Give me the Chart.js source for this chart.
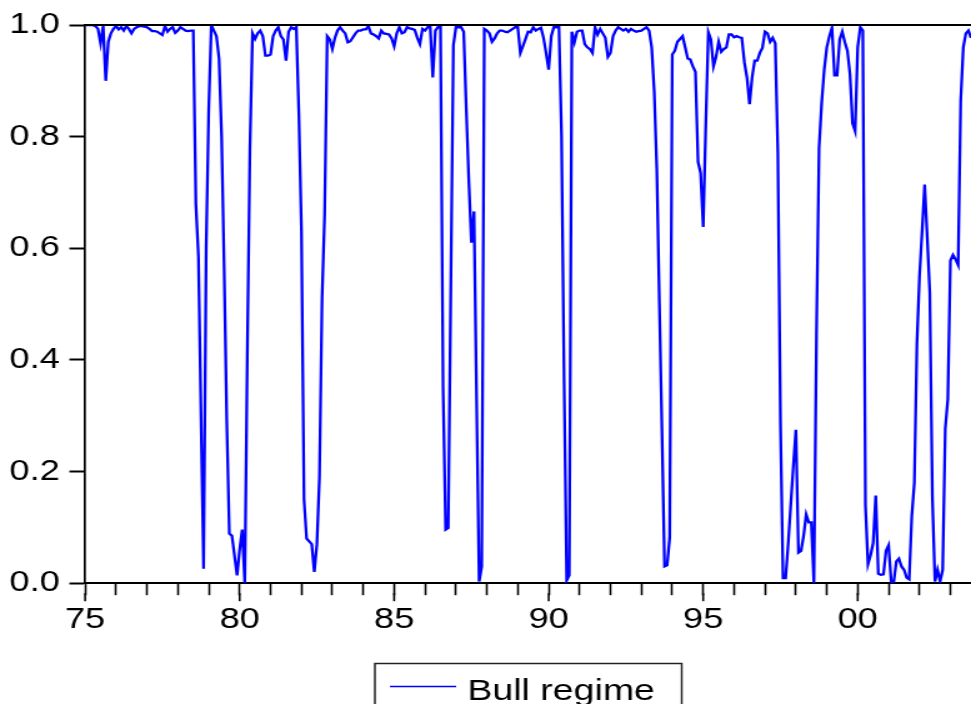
<!DOCTYPE html>
<html lang="en">
<head>
    <meta charset="UTF-8">
    <title>Bull regime probability</title>
    <style>
        body {
            margin: 0;
            background-color: #ffffff;
        }
    </style>
</head>
<body>
    <!-- the reference picture is stretched sideways by about 1.25, so the
         canvas is drawn at 777px and shown at 971px (inline style so Chart.js keeps it) -->
    <canvas id="regimeChart" width="777" height="704" style="width:971px;height:704px;display:block;"></canvas>

    <script src="https://cdn.jsdelivr.net/npm/chart.js"></script>
    <script>
        // Smoothed probability of the bull regime, monthly from 1975M1 to 2003M9
        const bull1975to1979 = [
            1.0, 1.0, 1.0, 1.0, 0.998, 0.993, 0.967, 0.998, 0.90, 0.97, 0.985, 0.993,
            0.998, 0.992, 0.996, 0.99, 0.998, 0.993, 0.985, 0.993, 0.996, 0.998, 0.998, 0.997,
            0.996, 0.993, 0.989, 0.989, 0.988, 0.985, 0.982, 0.998, 0.988, 0.993, 0.996, 0.986,
            0.99, 0.996, 0.993, 0.99, 0.989, 0.99, 0.99, 0.68, 0.585, 0.30, 0.026, 0.60,
            0.85, 1.0, 0.99, 0.98, 0.94, 0.80, 0.56, 0.29, 0.089, 0.085, 0.05, 0.014
        ];
        const bull1980to1984 = [
            0.06, 0.096, 0.0, 0.42, 0.78, 0.985, 0.975, 0.985, 0.99, 0.98, 0.945, 0.945,
            0.947, 0.98, 0.99, 0.996, 0.98, 0.974, 0.936, 0.988, 0.996, 0.993, 0.996, 0.84,
            0.63, 0.15, 0.08, 0.075, 0.07, 0.02, 0.07, 0.19, 0.51, 0.66, 0.98, 0.974,
            0.957, 0.977, 0.99, 0.996, 0.99, 0.985, 0.969, 0.971, 0.978, 0.985, 0.99, 0.99,
            0.992, 0.992, 0.998, 0.985, 0.983, 0.98, 0.976, 0.99, 0.985, 0.984, 0.983, 0.976
        ];
        const bull1985to1989 = [
            0.962, 0.985, 0.996, 0.985, 0.987, 0.996, 0.994, 0.993, 0.991, 0.977, 0.966, 0.993,
            0.99, 0.996, 0.997, 0.906, 0.99, 0.996, 0.996, 0.35, 0.096, 0.099, 0.53, 0.964,
            0.996, 0.996, 0.996, 0.988, 0.85, 0.72, 0.61, 0.666, 0.33, 0.003, 0.03, 0.993,
            0.99, 0.985, 0.97, 0.976, 0.985, 0.99, 0.99, 0.988, 0.987, 0.99, 0.993, 0.996,
            0.996, 0.95, 0.962, 0.975, 0.988, 0.987, 0.996, 0.99, 0.993, 0.995, 0.977, 0.95
        ];
        const bull1990to1994 = [
            0.92, 0.98, 0.996, 0.996, 0.996, 0.80, 0.36, 0.005, 0.014, 0.988, 0.969, 0.988,
            0.99, 0.99, 0.966, 0.96, 0.957, 0.95, 0.996, 0.983, 0.993, 0.985, 0.977, 0.943,
            0.95, 0.98, 0.99, 0.996, 0.993, 0.99, 0.993, 0.988, 0.993, 0.99, 0.988, 0.989,
            0.99, 0.993, 0.996, 0.99, 0.96, 0.88, 0.74, 0.50, 0.27, 0.03, 0.032, 0.082,
            0.947, 0.954, 0.97, 0.975, 0.98, 0.96, 0.94, 0.938, 0.926, 0.916, 0.755, 0.735
        ];
        const bull1995to1999 = [
            0.638, 0.82, 0.987, 0.974, 0.926, 0.943, 0.97, 0.952, 0.957, 0.96, 0.983, 0.983,
            0.978, 0.98, 0.978, 0.977, 0.933, 0.906, 0.858, 0.906, 0.936, 0.936, 0.95, 0.959,
            0.988, 0.985, 0.97, 0.977, 0.967, 0.77, 0.29, 0.009, 0.009, 0.07, 0.14, 0.21,
            0.275, 0.055, 0.058, 0.085, 0.123, 0.109, 0.109, 0.0, 0.45, 0.78, 0.86, 0.92,
            0.96, 0.98, 0.995, 0.91, 0.91, 0.974, 0.988, 0.969, 0.954, 0.912, 0.824, 0.81
        ];
        const bull2000to2003 = [
            0.96, 0.996, 0.99, 0.14, 0.034, 0.05, 0.072, 0.157, 0.017, 0.015, 0.016, 0.058,
            0.068, 0.003, 0.002, 0.039, 0.044, 0.03, 0.024, 0.01, 0.007, 0.12, 0.18, 0.43,
            0.55, 0.63, 0.714, 0.62, 0.52, 0.154, 0.003, 0.024, 0.003, 0.024, 0.277, 0.33,
            0.578, 0.588, 0.58, 0.57, 0.865, 0.96, 0.985, 0.99, 0.977
        ];

        // x ticks: one per year (months since 1975M1), labelled every five years
        const yearTickMonths = [0, 12, 24, 36, 48, 60, 72, 84, 96, 108, 120, 132, 144, 156,
                                168, 180, 192, 204, 216, 228, 240, 252, 264, 276, 288, 300,
                                312, 324, 336];
        const yearLabels = { 0: '75', 60: '80', 120: '85', 180: '90', 240: '95', 300: '00' };
        const yTicks = [0, 0.2, 0.4, 0.6, 0.8, 1.0];

        const bullValues = [].concat(bull1975to1979, bull1980to1984, bull1985to1989,
                                     bull1990to1994, bull1995to1999, bull2000to2003);
        const bullPoints = bullValues.map((v, i) => ({ x: i, y: v }));

        const fontFamily = '"Liberation Sans", Arial, sans-serif';

        // top frame line, longer five-year ticks and the boxed legend
        const framePlugin = {
            id: 'frame',
            afterDraw(chart) {
                const ctx = chart.ctx;
                const area = chart.chartArea;
                const xScale = chart.scales.x;
                ctx.save();
                ctx.strokeStyle = '#000';
                ctx.lineWidth = 2;
                ctx.beginPath();
                ctx.moveTo(area.left - 1, area.top);
                ctx.lineTo(area.right, area.top);
                ctx.stroke();

                ctx.lineWidth = 1.6;
                Object.keys(yearLabels).forEach(m => {
                    const px = xScale.getPixelForValue(Number(m));
                    ctx.beginPath();
                    ctx.moveTo(px, area.bottom + 10);
                    ctx.lineTo(px, area.bottom + 18);
                    ctx.stroke();
                });

                // legend
                const ds = chart.data.datasets[0];
                ctx.strokeStyle = '#222';
                ctx.lineWidth = 1.5;
                ctx.strokeRect(300, 663.5, 245.5, 60);
                ctx.strokeStyle = ds.borderColor;
                ctx.lineWidth = 1.5;
                ctx.beginPath();
                ctx.moveTo(312, 686.5);
                ctx.lineTo(365, 686.5);
                ctx.stroke();
                ctx.fillStyle = '#000';
                ctx.font = '30px ' + fontFamily;
                ctx.textBaseline = 'alphabetic';
                ctx.textAlign = 'left';
                ctx.fillText(ds.label, 374, 700);
                ctx.restore();
            }
        };

        const ctx = document.getElementById('regimeChart').getContext('2d');
        const regimeChart = new Chart(ctx, {
            type: 'line',
            data: {
                datasets: [{
                    label: 'Bull regime',
                    data: bullPoints,
                    borderColor: '#0000ff',
                    borderWidth: 2.3,
                    pointRadius: 0,
                    tension: 0,
                    fill: false
                }]
            },
            options: {
                responsive: false,
                animation: false,
                devicePixelRatio: 1,
                layout: {
                    padding: { left: 0, right: 0, top: 24, bottom: 59 }
                },
                plugins: {
                    legend: { display: false },
                    tooltip: { enabled: false }
                },
                scales: {
                    x: {
                        type: 'linear',
                        min: 0,
                        max: 344,
                        afterBuildTicks: scale => {
                            scale.ticks = yearTickMonths.map(v => ({ value: v }));
                        },
                        grid: {
                            drawOnChartArea: false,
                            tickLength: 12,
                            tickColor: '#000',
                            tickWidth: 1.6
                        },
                        border: { color: '#000', width: 2 },
                        ticks: {
                            autoSkip: false,
                            maxRotation: 0,
                            padding: 7.5,
                            color: '#000',
                            font: { family: fontFamily, size: 29 },
                            callback: v => yearLabels[v] || ''
                        }
                    },
                    y: {
                        min: 0,
                        max: 1,
                        afterBuildTicks: scale => {
                            scale.ticks = yTicks.map(v => ({ value: v }));
                        },
                        grid: {
                            drawOnChartArea: false,
                            tickLength: 12.6,
                            tickColor: '#000',
                            tickWidth: 2
                        },
                        border: { color: '#000', width: 1.7 },
                        ticks: {
                            padding: 7.6,
                            color: '#000',
                            font: { family: fontFamily, size: 29 },
                            callback: v => v.toFixed(1)
                        }
                    }
                }
            },
            plugins: [framePlugin]
        });
    </script>
</body>
</html>
